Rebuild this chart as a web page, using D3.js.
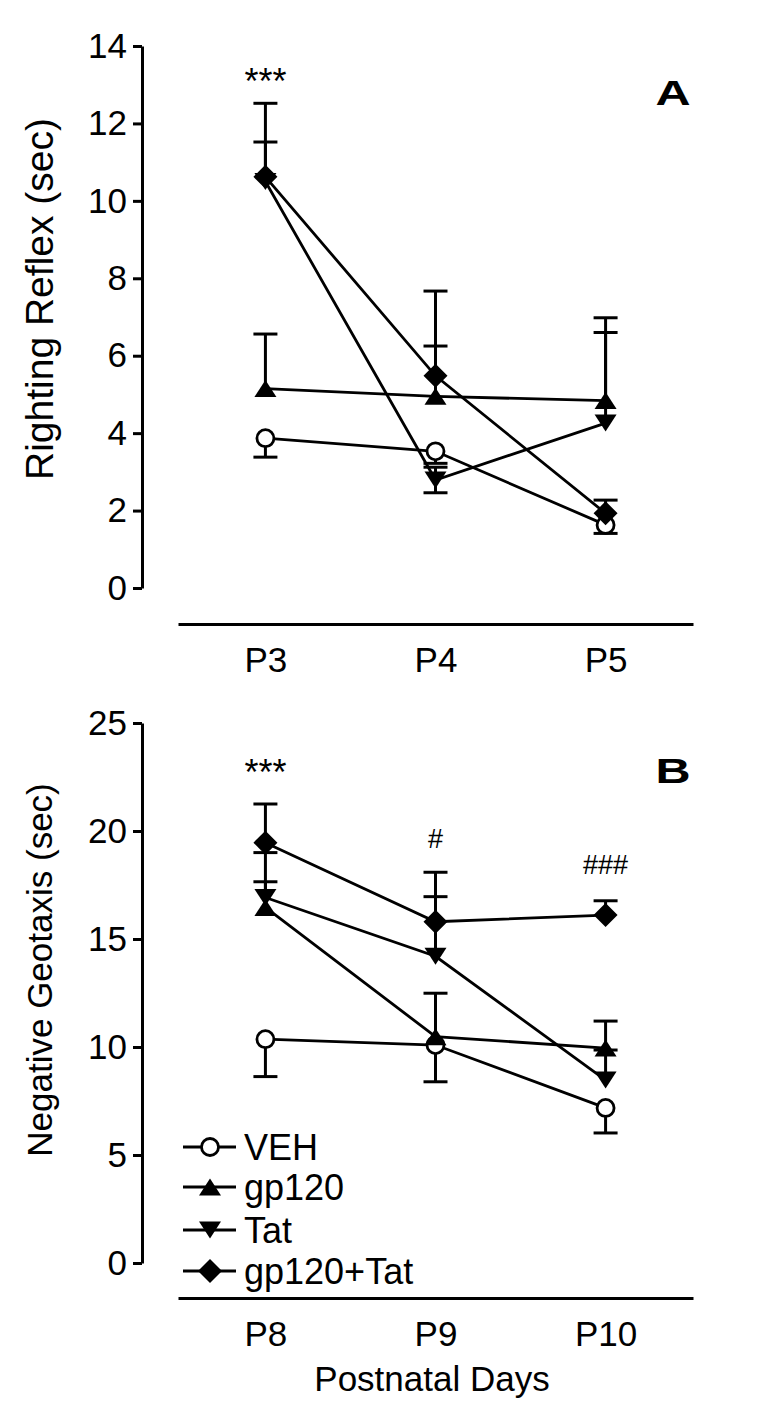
<!DOCTYPE html>
<html><head><meta charset="utf-8">
<script src="https://cdn.jsdelivr.net/npm/d3@7"></script>
<style>body{margin:0;background:#fff}svg{display:block}text{font-family:"Liberation Sans",Arial,sans-serif;fill:#000}</style>
</head><body>
<script>
// ---------- DATA ----------
const seriesNames = ["VEH", "gp120", "Tat", "gp120+Tat"];
const seriesSymbols = ["circle", "triangleUp", "triangleDown", "diamond"];

// Panel A: Righting Reflex (sec)
const daysA = ["P3", "P4", "P5"];
const ticksA = [0, 2, 4, 6, 8, 10, 12, 14];
const vehA = [3.87, 3.53, 1.63];
const vehA_low = [3.38, 3.22, 1.41];
const gp120A = [5.15, 4.95, 4.84];
const gp120A_high = [6.56, 6.25, 6.6];
const tatA = [10.5, 2.79, 4.26];
const tatA_high = [11.52, 3.12, 6.98];
const tatA_low = [null, 2.46, null];
const comboA = [10.62, 5.48, 1.93];
const comboA_high = [12.52, 7.67, 2.27];
const starsA = [["***", "P3", 36]];

// Panel B: Negative Geotaxis (sec)
const daysB = ["P8", "P9", "P10"];
const ticksB = [0, 5, 10, 15, 20, 25];
const vehB = [10.36, 10.09, 7.18];
const vehB_low = [8.63, 8.39, 6.02];
const gp120B = [16.46, 10.48, 9.95];
const gp120B_high = [19.0, 12.49, 11.2];
const tatB = [16.92, 14.2, 8.47];
const tatB_high = [17.65, 16.96, 9.86];
const comboB = [19.46, 15.8, 16.11];
const comboB_high = [21.25, 18.09, 16.77];
const starsB = [["***", "P8", 36], ["#", "P9", 27], ["###", "P10", 27]];

// ---------- DRAW ----------
const W = 765, H = 1418;
const svg = d3.select("body").append("svg").attr("width", W).attr("height", H);

function mk(means, high, low) {
  return means.map((m, i) => ({ m, hi: high ? high[i] : null, lo: low ? low[i] : null }));
}

function marker(g, type, x, y) {
  const sw = 2.8;
  if (type === "circle") {
    g.append("circle").attr("cx", x).attr("cy", y).attr("r", 8.5)
      .attr("fill", "#fff").attr("stroke", "#000").attr("stroke-width", sw);
  } else if (type === "triangleUp") {
    const w = 11, h = 8.5;
    g.append("path").attr("d", `M${x},${y - h}L${x + w},${y + h}L${x - w},${y + h}Z`).attr("fill", "#000");
  } else if (type === "triangleDown") {
    const w = 11, h = 8.5;
    g.append("path").attr("d", `M${x},${y + h}L${x + w},${y - h}L${x - w},${y - h}Z`).attr("fill", "#000");
  } else {
    const r = 12;
    g.append("path").attr("d", `M${x},${y - r}L${x + r},${y}L${x},${y + r}L${x - r},${y}Z`).attr("fill", "#000");
  }
}

function panel(cfg) {
  const x = d3.scalePoint().domain(cfg.days).range([178, 693]).padding(0.514);
  const y = d3.scaleLinear().domain([0, cfg.ticks[cfg.ticks.length - 1]]).range([cfg.y0, cfg.y1]);
  const g = svg.append("g");

  // y axis
  const ya = g.append("g").attr("transform", "translate(142,0)")
    .call(d3.axisLeft(y).tickValues(cfg.ticks).tickSizeInner(9).tickSizeOuter(0).tickPadding(6));
  ya.select(".domain").attr("stroke-width", 3);
  ya.selectAll(".tick line").attr("stroke-width", 3);
  ya.selectAll("text").attr("font-size", 35).style("font-family", "Liberation Sans, Arial");

  // x axis
  const xa = g.append("g").attr("transform", `translate(0,${cfg.xAxisY})`)
    .call(d3.axisBottom(x).tickSize(0).tickPadding(23));
  xa.select(".domain").attr("stroke-width", 3);
  xa.selectAll("text").attr("font-size", 35).style("font-family", "Liberation Sans, Arial");

  // y title
  g.append("text").attr("transform", `translate(${cfg.titleX},${cfg.titleY}) rotate(-90)`)
    .attr("text-anchor", "middle").attr("font-size", cfg.titleSize).text(cfg.title);

  // panel letter
  g.append("text").attr("x", 673).attr("y", cfg.letterY).attr("text-anchor", "middle")
    .attr("font-size", 36).attr("font-weight", "bold")
    .attr("transform", `translate(673,0) scale(1.35,1) translate(-673,0)`).text(cfg.letter);

  // lines
  const line = d3.line().x((d, i) => x(cfg.days[i])).y(d => y(d.m));
  cfg.series.forEach(s => {
    g.append("path").attr("d", line(s)).attr("fill", "none").attr("stroke", "#000").attr("stroke-width", 2.8);
  });
  // error bars
  cfg.series.forEach(s => {
    s.forEach((d, i) => {
      const cx = x(cfg.days[i]);
      [d.hi, d.lo].forEach(v => {
        if (v == null) return;
        g.append("line").attr("x1", cx).attr("x2", cx).attr("y1", y(d.m)).attr("y2", y(v))
          .attr("stroke", "#000").attr("stroke-width", 3);
        g.append("line").attr("x1", cx - 12).attr("x2", cx + 12).attr("y1", y(v)).attr("y2", y(v))
          .attr("stroke", "#000").attr("stroke-width", 3);
      });
    });
  });
  // markers
  cfg.series.forEach((s, k) => {
    s.forEach((d, i) => marker(g, seriesSymbols[k], x(cfg.days[i]), y(d.m)));
  });
  // significance
  cfg.stars.forEach(([t, day, fs]) => {
    g.append("text").attr("x", x(day)).attr("y", cfg.starY[t]).attr("text-anchor", "middle")
      .attr("font-size", fs).text(t);
  });
}

panel({
  days: daysA, ticks: ticksA, y0: 588, y1: 46, xAxisY: 624,
  title: "Righting Reflex (sec)", titleX: 53, titleY: 299, titleSize: 39,
  letter: "A", letterY: 105,
  series: [mk(vehA, null, vehA_low), mk(gp120A, gp120A_high), mk(tatA, tatA_high, tatA_low), mk(comboA, comboA_high)],
  stars: starsA, starY: { "***": 94 }
});

panel({
  days: daysB, ticks: ticksB, y0: 1263, y1: 723, xAxisY: 1298,
  title: "Negative Geotaxis (sec)", titleX: 52, titleY: 970, titleSize: 35,
  letter: "B", letterY: 783,
  series: [mk(vehB, null, vehB_low), mk(gp120B, gp120B_high), mk(tatB, tatB_high), mk(comboB, comboB_high)],
  stars: starsB, starY: { "***": 785, "#": 848, "###": 874 }
});

// x title
svg.append("text").attr("x", 432).attr("y", 1391).attr("text-anchor", "middle").attr("font-size", 35).text("Postnatal Days");

// legend
const legendY = [1147, 1187, 1230, 1271];
const lg = svg.append("g");
seriesNames.forEach((n, k) => {
  const yy = legendY[k];
  lg.append("line").attr("x1", 183).attr("x2", 236).attr("y1", yy).attr("y2", yy).attr("stroke", "#000").attr("stroke-width", 2.8);
  marker(lg, seriesSymbols[k], 210, yy);
  lg.append("text").attr("x", 244).attr("y", yy + 13).attr("font-size", 36).text(n);
});
</script>
</body></html>
